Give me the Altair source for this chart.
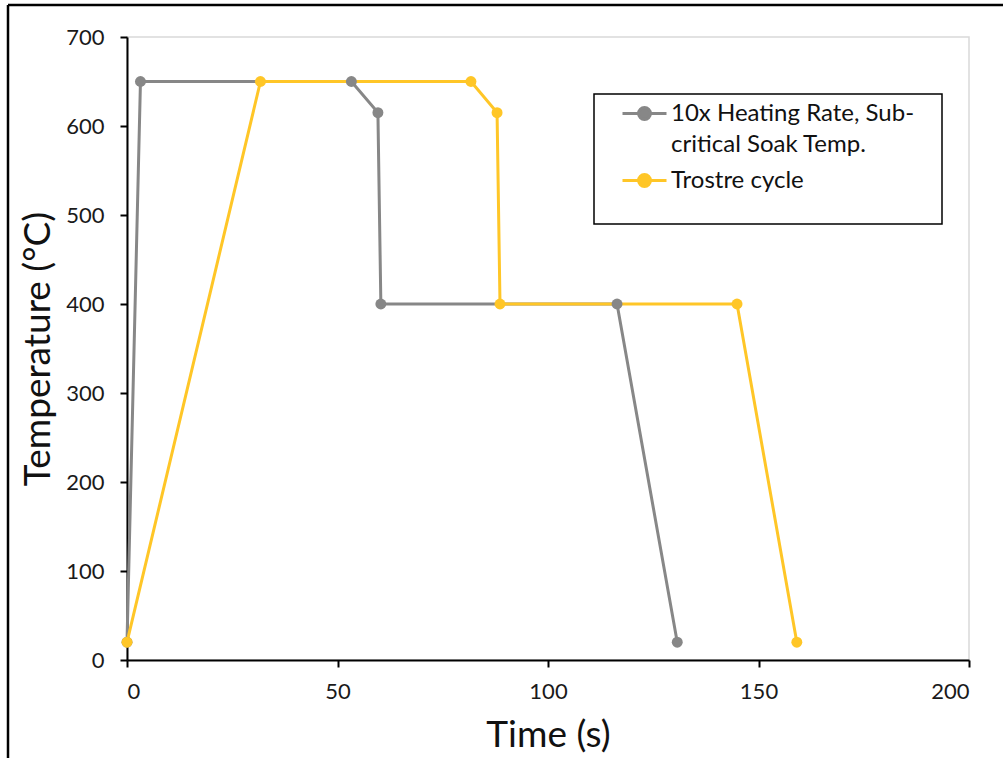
import altair as alt
import pandas as pd

series_names = ["10x Heating Rate, Sub-critical Soak Temp.", "Trostre cycle"]
series_colors = ["#878787", "#ffc627"]

gray_time = [0, 3.2, 53.3, 59.6, 60.3, 116.4, 130.7]
gray_temp = [20, 650, 650, 615, 400, 400, 20]
trostre_time = [0, 31.7, 81.7, 87.9, 88.6, 144.9, 159.1]
trostre_temp = [20, 650, 650, 615, 400, 400, 20]

x_ticks = [0, 50, 100, 150, 200]
y_ticks = [0, 100, 200, 300, 400, 500, 600, 700]

rows = []
for name, ts, vs in [(series_names[0], gray_time, gray_temp),
                     (series_names[1], trostre_time, trostre_temp)]:
    for i, (t, v) in enumerate(zip(ts, vs)):
        rows.append({"series": name, "time": t, "temp": v, "idx": i})
df = pd.DataFrame(rows)

FONT = "Lato"
W, H = 842, 623

xsc = alt.Scale(domain=[0, 200], nice=False, zero=False)
ysc = alt.Scale(domain=[0, 700], nice=False)
csc = alt.Scale(domain=series_names, range=series_colors)

sym = ("M-1,0L1,0M-0.27,0A0.27,0.27,0,1,1,0.27,0"
       "A0.27,0.27,0,1,1,-0.27,0Z")

label_expr = ("datum.label == '10x Heating Rate, Sub-critical Soak Temp.' ? "
              "['10x Heating Rate, Sub-', 'critical Soak Temp.'] : datum.label")


def make_legend():
    return alt.Legend(title=None, orient="none", legendX=494, legendY=53,
                      symbolType=sym, symbolSize=1936, symbolStrokeWidth=3,
                      labelFont=FONT, labelFontSize=24, labelColor="#111111",
                      labelLimit=500, labelExpr=label_expr, labelOffset=3,
                      padding=0, rowPadding=-5)


xenc = alt.X("time:Q", scale=xsc, title="Time (s)",
             axis=alt.Axis(values=x_ticks, format="d"))
yenc = alt.Y("temp:Q", scale=ysc, title="Temperature (°C)",
             axis=alt.Axis(values=y_ticks, format="d"))

box = alt.Chart(pd.DataFrame({"k": [0]})).mark_rect(
    fill="white", stroke="black", strokeWidth=1.5
).encode(x=alt.value(467), x2=alt.value(815), y=alt.value(57), y2=alt.value(187))

lines = alt.Chart(df).mark_line(strokeWidth=3).encode(
    x=xenc, y=yenc,
    stroke=alt.Stroke("series:N", scale=csc, legend=make_legend()),
    order="idx:Q",
)
points = alt.Chart(df).mark_circle(size=120, opacity=1).encode(
    x=xenc, y=yenc,
    fill=alt.Fill("series:N", scale=csc, legend=make_legend()),
)

frame_left = alt.Chart(pd.DataFrame({"k": [0]})).mark_rule(
    color="black", strokeWidth=2.5
).encode(x=alt.value(-119), y=alt.value(-32), y2=alt.value(721))
frame_top = alt.Chart(pd.DataFrame({"k": [0]})).mark_rule(
    color="black", strokeWidth=2.5
).encode(x=alt.value(-119), x2=alt.value(876), y=alt.value(-32))

chart = alt.layer(box, lines, points, frame_left, frame_top).properties(
    width=W, height=H,
    background="white",
    autosize=alt.AutoSizeParams(type="none"),
    padding={"left": 127, "top": 37, "right": 34, "bottom": 98},
).configure(
    style={"guide-label": {"lineHeight": 31}},
).configure_view(
    stroke="#d9d9d9", strokeWidth=1.5
).configure_axis(
    grid=False, domainColor="black", domainWidth=2,
    tickColor="black", tickWidth=2, tickSize=7,
    labelFont=FONT, labelFontSize=22, labelColor="#1a1a1a",
    titleFont=FONT, titleFontSize=37, titleFontWeight="normal", titleColor="#111111",
).configure_axisX(
    labelPadding=14, titlePadding=15,
).configure_axisY(
    labelPadding=16, titlePadding=8,
)

chart.save("out.html", embed_options={"renderer": "svg", "actions": False})
